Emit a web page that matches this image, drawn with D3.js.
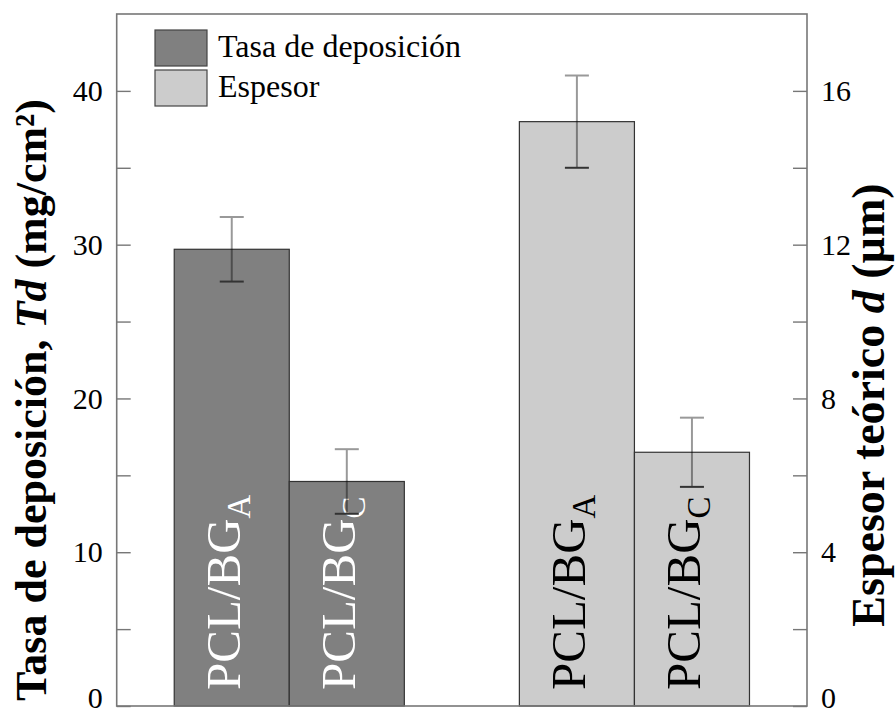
<!DOCTYPE html>
<html>
<head>
<meta charset="utf-8">
<script src="https://cdn.jsdelivr.net/npm/d3@7"></script>
<style>
  html, body { margin: 0; padding: 0; background: #ffffff; }
  svg { display: block; }
  text { font-family: "Liberation Serif", "Times New Roman", serif; }
</style>
</head>
<body>
<svg id="chart" width="896" height="715"></svg>
<script>
// ---- data ----
const groups = ["Tasa de deposición", "Espesor"];
const samples = ["A", "C"];
const tasaValues = [29.7, 14.6];
const tasaErrors = [2.1, 2.1];
const espesorValues = [15.2, 6.6];
const espesorErrors = [1.2, 0.9];
const leftMajorTicks = [0, 10, 20, 30, 40];
const leftMinorTicks = [5, 15, 25, 35];
const rightMajorTicks = [0, 4, 8, 12, 16];
const rightMinorTicks = [2, 6, 10, 14];
const leftDomain = [0, 45];
const rightDomain = [0, 18];
const legendLabels = ["Tasa de deposición", "Espesor"];
const barLabelBase = "PCL/BG";

// ---- layout ----
const W = 896, H = 715;
const m = { left: 116.7, right: W - 807, top: 14, bottom: H - 706 };
const svg = d3.select("#chart");
const x0 = d3.scaleBand().domain(groups).range([m.left, W - m.right])
  .paddingInner(1 / 3).paddingOuter(1 / 6);
const x1 = d3.scaleBand().domain(samples).range([0, x0.bandwidth()]).padding(0);
const yL = d3.scaleLinear().domain(leftDomain).range([H - m.bottom, m.top]);
const yR = d3.scaleLinear().domain(rightDomain).range([H - m.bottom, m.top]);

const fills = { "Tasa de deposición": "#808080", "Espesor": "#cccccc" };
const textFill = { "Tasa de deposición": "#ffffff", "Espesor": "#000000" };

const rows = [];
groups.forEach((g, gi) => {
  const vals = gi === 0 ? tasaValues : espesorValues;
  const errs = gi === 0 ? tasaErrors : espesorErrors;
  const sc = gi === 0 ? yL : yR;
  samples.forEach((s, si) => rows.push({ g, s, v: vals[si], e: errs[si], y: sc }));
});

// bars
const barG = svg.append("g");
barG.selectAll("rect").data(rows).join("rect")
  .attr("x", d => x0(d.g) + x1(d.s))
  .attr("width", x1.bandwidth())
  .attr("y", d => d.y(d.v))
  .attr("height", d => d.y(0) - d.y(d.v))
  .attr("fill", d => fills[d.g])
  .attr("stroke", "#333")
  .attr("stroke-width", 1.2);

// bar labels
barG.selectAll("text.lbl").data(rows).join("text")
  .attr("class", "lbl")
  .attr("transform", d => `translate(${x0(d.g) + x1(d.s) + x1.bandwidth() / 2 + 8},${d.y(0) - 16}) rotate(-90)`)
  .attr("fill", d => textFill[d.g])
  .attr("font-size", 49)
  .each(function (d) {
    const t = d3.select(this);
    t.append("tspan").text(barLabelBase);
    t.append("tspan").attr("font-size", 33).attr("dy", 10).text(d.s);
  });

// error bars
const capW = 12;
const eb = svg.append("g");
rows.forEach(d => {
  const cx = x0(d.g) + x1(d.s) + x1.bandwidth() / 2;
  eb.append("line").attr("x1", cx).attr("x2", cx)
    .attr("y1", d.y(d.v - d.e)).attr("y2", d.y(d.v + d.e))
    .attr("stroke", "#000").attr("stroke-opacity", 0.4).attr("stroke-width", 2);
  eb.append("line").attr("x1", cx - capW).attr("x2", cx + capW)
    .attr("y1", d.y(d.v + d.e)).attr("y2", d.y(d.v + d.e))
    .attr("stroke", "#999").attr("stroke-width", 2);
  eb.append("line").attr("x1", cx - capW).attr("x2", cx + capW)
    .attr("y1", d.y(d.v - d.e)).attr("y2", d.y(d.v - d.e))
    .attr("stroke", "#333").attr("stroke-width", 2);
});

// frame
svg.append("rect")
  .attr("x", m.left).attr("y", m.top)
  .attr("width", W - m.right - m.left).attr("height", H - m.bottom - m.top)
  .attr("fill", "none").attr("stroke", "#777").attr("stroke-width", 1.6);

// axes
const leftAll = leftMajorTicks.concat(leftMinorTicks);
const rightAll = rightMajorTicks.concat(rightMinorTicks);
const axL = d3.axisLeft(yL).tickValues(leftAll).tickSize(-14).tickPadding(14)
  .tickFormat(d => leftMajorTicks.includes(d) ? d : "");
const axR = d3.axisRight(yR).tickValues(rightAll).tickSize(-14).tickPadding(14)
  .tickFormat(d => rightMajorTicks.includes(d) ? d : "");
function styleAxis(g) {
  g.select(".domain").remove();
  g.selectAll(".tick line").attr("stroke", "#777").attr("stroke-width", 1.4);
  g.selectAll(".tick text").attr("font-size", 30).attr("fill", "#000")
    .attr("font-family", "Liberation Serif")
    .attr("dy", d => d === 0 ? "0.06em" : "0.32em");
}
svg.append("g").attr("transform", `translate(${m.left},0)`).call(axL).call(styleAxis);
svg.append("g").attr("transform", `translate(${W - m.right},0)`).call(axR).call(styleAxis);

// axis titles
const tL = svg.append("text")
  .attr("transform", `translate(46,400) rotate(-90)`)
  .attr("text-anchor", "middle").attr("font-weight", "bold").attr("font-size", 44);
tL.append("tspan").text("Tasa de deposición, ");
tL.append("tspan").attr("font-style", "italic").text("Td");
tL.append("tspan").text(" (mg/cm²)");

const tR = svg.append("text")
  .attr("transform", `translate(884,405) rotate(-90)`)
  .attr("text-anchor", "middle").attr("font-weight", "bold").attr("font-size", 46);
tR.append("tspan").text("Espesor teórico ");
tR.append("tspan").attr("font-style", "italic").text("d");
tR.append("tspan").text(" (µm)");

// legend
const lg = svg.append("g");
legendLabels.forEach((lab, i) => {
  const gy = 30 + i * 40;
  lg.append("rect").attr("x", 155).attr("y", gy).attr("width", 52).attr("height", 36)
    .attr("fill", fills[groups[i]]).attr("stroke", "#444").attr("stroke-width", 1.2);
  lg.append("text").attr("x", 218).attr("y", gy + 27).attr("font-size", 32)
    .attr("fill", "#000").text(lab);
});
</script>
</body>
</html>
